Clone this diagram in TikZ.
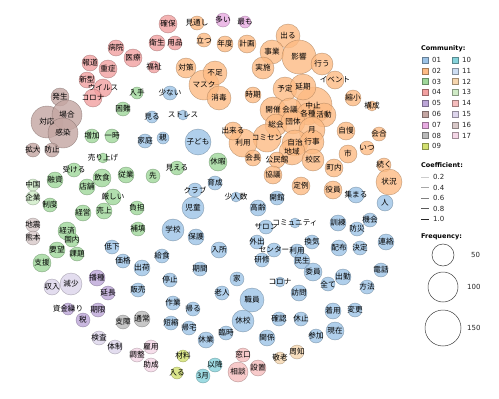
\documentclass[tikz,border=0pt]{standalone}
\usepackage{fontspec}
\newfontfamily\jpfont{Noto Sans CJK JP}
\newfontfamily\legfont{DejaVu Sans}
\pgfdeclarelayer{background}
\pgfdeclarelayer{foreground}
\pgfsetlayers{background,main,foreground}
\definecolor{c01}{HTML}{9DC3E6}
\definecolor{c02}{HTML}{FDBB84}
\definecolor{c03}{HTML}{9FD79A}
\definecolor{c04}{HTML}{F2A0A0}
\definecolor{c05}{HTML}{BCA6D8}
\definecolor{c06}{HTML}{C4A6A2}
\definecolor{c07}{HTML}{E8ABE2}
\definecolor{c08}{HTML}{BABABA}
\definecolor{c09}{HTML}{D2E070}
\definecolor{c10}{HTML}{86D3DB}
\definecolor{c11}{HTML}{CDDDF2}
\definecolor{c12}{HTML}{F6D6AE}
\definecolor{c13}{HTML}{CFEBC6}
\definecolor{c14}{HTML}{F6BDBD}
\definecolor{c15}{HTML}{DDD5EC}
\definecolor{c16}{HTML}{D8C8C8}
\definecolor{c17}{HTML}{F4D6E6}
\tikzset{
  nd/.style={circle, inner sep=0pt, draw=#1!65!black, fill=#1, fill opacity=0.8, draw opacity=0.7, line width=0.4pt},
  lbl/.style={inner sep=0pt, font=\jpfont\fontsize{7.6}{8}\selectfont, text=black},
  edge/.style={draw=black!28, line width=0.55pt},
  sq/.style={draw=#1!65!black, fill=#1, line width=0.4pt, minimum size=6pt, inner sep=0pt},
  lgt/.style={font=\legfont\fontsize{7}{8}\selectfont, anchor=west, inner sep=0pt, text=black!85},
  lgh/.style={font=\legfont\bfseries\fontsize{6.5}{8}\selectfont, anchor=west, inner sep=0pt}
}
\newcommand\N[6]{\node[nd=#2, minimum size={2*#5pt}] (#1) at (#3,#4) {};
  \begin{pgfonlayer}{foreground}\node[lbl] at (#1) {#6};\end{pgfonlayer}}
\newcommand\E[2]{\draw[edge] (#1) -- (#2);}
\begin{document}
\begin{tikzpicture}[x=1pt,y=-1pt]
\fill[white] (0,0) rectangle (499,399);
\useasboundingbox (0,0) rectangle (499,399);
% ---- community 04
\N{kakuho}{c04}{168}{24}{9}{確保}
\N{eisei}{c04}{157}{43}{8}{衛生}
\N{youhin}{c04}{175}{43}{7}{用品}
\N{byoin}{c04}{116}{48}{8}{病院}
\N{iryo}{c04}{133}{58}{9}{医療}
\N{fukushi}{c04}{154}{67}{6}{福祉}
\N{hodo}{c04}{90}{63}{8}{報道}
\N{jusho}{c04}{108}{69}{9}{重症}
\N{shingata}{c04}{87}{80}{8}{新型}
\N{virus}{c04}{103}{88}{9}{ウイルス}
\N{corona}{c04}{93}{98}{9}{コロナ}
% ---- community 06
\N{hassei}{c06}{60}{97}{9}{発生}
\N{taiou}{c06}{47}{122}{16}{対応}
\N{baai}{c06}{67}{115}{15}{場合}
\N{kansen}{c06}{63}{133}{15}{感染}
\N{kakudai}{c06}{33}{150}{7}{拡大}
\N{boushi}{c06}{52}{150}{7}{防止}
% ---- community 03
\N{nyushu}{c03}{137}{93}{6}{入手}
\N{konnan}{c03}{123}{109}{7}{困難}
\N{zouka}{c03}{92}{136}{7}{増加}
\N{ichiji}{c03}{112}{136}{7}{一時}
\N{uriage}{c03}{103}{158}{5}{売り上げ}
\N{ukeru}{c03}{74}{170}{7}{受ける}
\N{inshoku}{c03}{102}{178}{9}{飲食}
\N{jugyo}{c03}{126}{175}{8}{従業}
\N{tenpo}{c03}{87}{187}{8}{店舗}
\N{kibishii}{c03}{113}{197}{8}{厳しい}
\N{yushi}{c03}{55}{180}{8}{融資}
\N{seido}{c03}{50}{205}{7}{制度}
\N{keiei}{c03}{83}{213}{8}{経営}
\N{uriageb}{c03}{104}{211}{8}{売上}
\N{futan}{c03}{137}{208}{7}{負担}
\N{hoten}{c03}{138}{229}{7}{補填}
\N{unka}{c03}{67}{231}{9}{経済}
\N{unkb}{c03}{72}{240}{7}{国内}
\N{youbou}{c03}{57}{250}{8}{要望}
\N{kadai}{c03}{77}{254}{7}{課題}
\N{shien}{c03}{42}{263}{9}{支援}
\N{kyuka}{c03}{218}{162}{9}{休暇}
\N{mieru}{c03}{177}{168}{7}{見える}
\N{saki}{c03}{153}{176}{7}{先}
% ---- small communities
\N{chugoku}{c13}{33}{185}{6}{中国}
\N{kigyo}{c13}{33}{198}{7}{企業}
\N{jishin}{c16}{33}{225}{7}{地震}
\N{kumamoto}{c16}{33}{238}{7}{熊本}
\N{hashu}{c05}{97}{278}{8}{播種}
\N{encho}{c05}{108}{293}{7}{延長}
\N{shikin}{c05}{68}{309}{6}{資金繰り}
\N{kigen}{c05}{98}{310}{7}{期限}
\N{zei}{c05}{83}{320}{7}{税}
\N{shunyu}{c15}{52}{287}{8}{収入}
\N{genshou}{c15}{71}{284}{11}{減少}
\N{kensa}{c15}{99}{338}{7}{検査}
\N{taisei}{c15}{115}{347}{7}{体制}
\N{shisho}{c08}{123}{322}{7}{支障}
\N{tsujo}{c08}{142}{319}{8}{通常}
\N{koyou}{c17}{151}{347}{7}{雇用}
\N{chosei}{c17}{137}{355}{7}{調整}
\N{josei}{c17}{151}{365}{7}{助成}
\N{zairyo}{c09}{183}{356}{6}{材料}
\N{hairu}{c09}{177}{373}{6}{入る}
\N{iko}{c10}{215}{365}{7}{以降}
\N{sangatsu}{c10}{203}{376}{7}{3月}
\N{madoguchi}{c14}{243}{355}{7}{窓口}
\N{soudan}{c14}{238}{372}{10}{相談}
\N{secchi}{c14}{258}{368}{8}{設置}
\N{shuchi}{c12}{297}{352}{7}{周知}
\N{keirou}{c12}{280}{358}{6}{敬老}
\N{ooi}{c07}{223}{20}{7}{多い}
\N{mottomo}{c07}{245}{22}{6}{最も}
% ---- community 01
\N{sukunai}{c01}{170}{93}{7}{少ない}
\N{stress}{c01}{183}{115}{5}{ストレス}
\N{miru}{c01}{152}{117}{6}{見る}
\N{katei}{c01}{145}{141}{7}{家庭}
\N{oya}{c01}{163}{138}{6}{親}
\N{kodomo}{c01}{198}{142}{13}{子ども}
\N{ikusei}{c01}{215}{183}{7}{育成}
\N{club}{c01}{195}{190}{7}{クラブ}
\N{jidou}{c01}{193}{208}{11}{児童}
\N{shouninzu}{c01}{236}{197}{5}{少人数}
\N{gakkou}{c01}{173}{230}{11}{学校}
\N{hogo}{c01}{196}{237}{8}{保護}
\N{nyusho}{c01}{219}{250}{8}{入所}
\N{koureii}{c01}{258}{208}{8}{高齢}
\N{kaikan}{c01}{277}{198}{7}{開館}
\N{community}{c01}{295}{223}{5}{コミュニティ}
\N{salon}{c01}{266}{227}{7}{サロン}
\N{gaishutsu}{c01}{257}{242}{7}{外出}
\N{center}{c01}{274}{250}{7}{センター}
\N{unkc}{c01}{297}{251}{7}{利用}
\N{kanki}{c01}{312}{242}{7}{換気}
\N{minsei}{c01}{302}{261}{8}{民生}
\N{kenshu}{c01}{262}{260}{7}{研修}
\N{iin}{c01}{313}{272}{9}{委員}
\N{coronab}{c01}{280}{282}{5}{コロナ}
\N{subete}{c01}{328}{284}{7}{全て}
\N{shukkin}{c01}{343}{277}{8}{出勤}
\N{houhou}{c01}{367}{287}{7}{方法}
\N{denwa}{c01}{381}{270}{7}{電話}
\N{houmon}{c01}{299}{293}{8}{訪問}
\N{kakunin}{c01}{279}{319}{7}{確認}
\N{kyushi}{c01}{301}{319}{7}{休止}
\N{chakuyou}{c01}{333}{311}{8}{着用}
\N{henkou}{c01}{355}{310}{7}{変更}
\N{genzai}{c01}{335}{331}{9}{現在}
\N{sanka}{c01}{316}{336}{7}{参加}
\N{kankei}{c01}{267}{338}{8}{関係}
\N{atsumaru}{c01}{356}{195}{8}{集まる}
\N{hito}{c01}{385}{203}{8}{人}
\N{kunren}{c01}{338}{223}{8}{訓練}
\N{kikai}{c01}{370}{220}{7}{機会}
\N{bousai}{c01}{357}{229}{7}{防災}
\N{haifu}{c01}{339}{248}{8}{配布}
\N{kettei}{c01}{360}{248}{7}{決定}
\N{renraku}{c01}{386}{242}{8}{連絡}
\N{teika}{c01}{112}{247}{7}{低下}
\N{kakaku}{c01}{123}{261}{7}{価格}
\N{kyushoku}{c01}{162}{256}{7}{給食}
\N{shukka}{c01}{142}{268}{8}{出荷}
\N{hanbai}{c01}{138}{290}{7}{販売}
\N{kikan}{c01}{200}{269}{7}{期間}
\N{teishi}{c01}{170}{280}{7}{停止}
\N{ie}{c01}{237}{279}{7}{家}
\N{roujin}{c01}{222}{293}{7}{老人}
\N{shokuin}{c01}{252}{300}{12}{職員}
\N{sagyou}{c01}{173}{303}{7}{作業}
\N{kaeru}{c01}{193}{309}{7}{帰る}
\N{tanshuku}{c01}{171}{323}{7}{短縮}
\N{kitaku}{c01}{189}{328}{7}{帰宅}
\N{kyukou}{c01}{243}{321}{11}{休校}
\N{kyugyo}{c01}{206}{340}{8}{休業}
\N{rinji}{c01}{226}{333}{7}{臨時}
% ---- community 02
\N{mitooshi}{c02}{197}{23}{7}{見通し}
\N{tatsu}{c02}{204}{40}{7}{立つ}
\N{nendo}{c02}{225}{44}{8}{年度}
\N{keikaku}{c02}{247}{44}{9}{計画}
\N{taisaku}{c02}{186}{68}{10}{対策}
\N{mask}{c02}{204}{85}{15}{}
\N{fusoku}{c02}{215}{73}{12}{不足}
\N{shodoku}{c02}{219}{98}{12}{消毒}
\N{jiki}{c02}{253}{95}{8}{時期}
\N{deru}{c02}{288}{36}{12}{出る}
\N{jigyo}{c02}{272}{52}{12}{事業}
\N{eikyou}{c02}{299}{57}{17}{影響}
\N{okonau}{c02}{322}{64}{11}{行う}
\N{jisshi}{c02}{263}{68}{11}{実施}
\N{event}{c02}{335}{80}{9}{イベント}
\N{shukushou}{c02}{353}{98}{8}{縮小}
\N{kousei}{c02}{372}{106}{5}{構成}
\N{chushi}{c02}{314}{105}{18}{}
\N{yotei}{c02}{285}{89}{12}{予定}
\N{enki}{c02}{303}{87}{13}{延期}
\N{kaisai}{c02}{273}{110}{13}{開催}
\N{kaigi}{c02}{290}{110}{12}{会議}
\N{kakushu}{c02}{308}{114}{11}{各種}
\N{katsudou}{c02}{324}{115}{12}{活動}
\N{soukai}{c02}{276}{125}{11}{総会}
\N{dantai}{c02}{293}{122}{12}{団体}
\N{tsuki}{c02}{312}{130}{13}{月}
\N{comisen}{c02}{267}{138}{14}{コミセン}
\N{riyou}{c02}{243}{143}{14}{利用}
\N{dekiru}{c02}{233}{131}{9}{出来る}
\N{jichi}{c02}{295}{143}{13}{自治}
\N{gyouji}{c02}{312}{142}{12}{行事}
\N{chiiki}{c02}{292}{152}{13}{地域}
\N{kaichou}{c02}{253}{158}{8}{会長}
\N{kouminkan}{c02}{277}{160}{8}{公民館}
\N{kouku}{c02}{313}{160}{11}{校区}
\N{kyougi}{c02}{273}{175}{9}{協議}
\N{teirei}{c02}{301}{186}{9}{定例}
\N{yakuin}{c02}{333}{190}{9}{役員}
\N{chounai}{c02}{334}{168}{9}{町内}
\N{shi}{c02}{348}{154}{9}{市}
\N{jiman}{c02}{346}{131}{9}{自慢}
\N{kaigou}{c02}{379}{134}{7}{会合}
\N{itsu}{c02}{367}{148}{7}{いつ}
\N{tsuzuku}{c02}{384}{165}{7}{続く}
\N{joukyou}{c02}{389}{182}{13}{状況}
\begin{pgfonlayer}{foreground}
\node[lbl] (lmask) at (204,85) {マスク};
\node[lbl] (lchushi) at (313,106) {中止};
\end{pgfonlayer}
% ---- edges
\begin{pgfonlayer}{background}
\E{eisei}{youhin}\E{kakuho}{eisei}\E{eisei}{iryo}\E{byoin}{iryo}\E{iryo}{fukushi}
\E{hodo}{jusho}\E{jusho}{iryo}\E{shingata}{virus}\E{virus}{corona}\E{shingata}{corona}\E{jusho}{shingata}
\E{hassei}{baai}\E{baai}{taiou}\E{taiou}{kansen}\E{baai}{kansen}\E{hassei}{taiou}\E{kakudai}{boushi}
\E{nyushu}{konnan}\E{zouka}{ichiji}\E{zouka}{uriage}\E{ichiji}{uriage}\E{uriage}{inshoku}\E{uriage}{jugyo}
\E{ukeru}{tenpo}\E{ukeru}{inshoku}\E{inshoku}{tenpo}\E{inshoku}{kibishii}\E{inshoku}{jugyo}\E{jugyo}{kibishii}
\E{tenpo}{keiei}\E{tenpo}{uriageb}\E{kibishii}{uriageb}\E{keiei}{uriageb}\E{yushi}{seido}
\E{keiei}{unka}\E{keiei}{unkb}\E{unka}{unkb}\E{unkb}{kadai}\E{youbou}{kadai}\E{unka}{youbou}
\E{kibishii}{futan}\E{futan}{hoten}\E{jugyo}{saki}\E{saki}{mieru}\E{mieru}{kyuka}\E{chugoku}{kigyo}
\E{jishin}{kumamoto}\E{hashu}{encho}\E{encho}{kigen}\E{kigen}{zei}\E{shikin}{zei}
\E{kensa}{taisei}\E{shunyu}{genshou}\E{tsujo}{shisho}\E{koyou}{chosei}\E{koyou}{josei}\E{chosei}{josei}
\E{zairyo}{hairu}\E{iko}{sangatsu}\E{madoguchi}{soudan}\E{madoguchi}{secchi}\E{shuchi}{keirou}\E{ooi}{mottomo}
\E{stress}{kodomo}\E{katei}{oya}\E{oya}{kodomo}\E{miru}{oya}\E{kodomo}{ikusei}\E{ikusei}{club}\E{ikusei}{jidou}
\E{club}{jidou}\E{ikusei}{shouninzu}\E{shouninzu}{koureii}\E{jidou}{gakkou}\E{jidou}{hogo}\E{gakkou}{kyushoku}
\E{hogo}{nyusho}\E{nyusho}{gaishutsu}\E{nyusho}{kikan}\E{kyushoku}{shukka}\E{kyushoku}{teishi}\E{shukka}{hanbai}
\E{teishi}{sagyou}\E{sagyou}{kaeru}\E{sagyou}{tanshuku}\E{sagyou}{kitaku}\E{kaeru}{kitaku}\E{tanshuku}{kitaku}
\E{kaeru}{tanshuku}\E{kitaku}{kyugyo}\E{kyugyo}{rinji}\E{rinji}{kyukou}\E{ie}{roujin}\E{ie}{kenshu}\E{shokuin}{kenshu}
\E{teika}{kakaku}\E{kakaku}{shukka}\E{koureii}{salon}\E{gaishutsu}{center}\E{salon}{community}\E{community}{kanki}
\E{community}{center}\E{kanki}{minsei}\E{center}{unkc}\E{unkc}{minsei}\E{minsei}{iin}\E{minsei}{houmon}
\E{iin}{shukkin}\E{shukkin}{subete}\E{coronab}{subete}\E{shukkin}{houhou}\E{houhou}{denwa}\E{shukkin}{chakuyou}
\E{chakuyou}{henkou}\E{chakuyou}{genzai}\E{chakuyou}{sanka}\E{houmon}{kakunin}\E{houmon}{kyushi}\E{kakunin}{kankei}
\E{kaikan}{kunren}\E{atsumaru}{hito}\E{atsumaru}{bousai}\E{kikai}{bousai}\E{kikai}{atsumaru}\E{kunren}{bousai}
\E{kunren}{haifu}\E{haifu}{kettei}\E{bousai}{kettei}\E{kettei}{renraku}\E{kanki}{haifu}\E{kyougi}{kaikan}
\E{mitooshi}{tatsu}\E{tatsu}{nendo}\E{nendo}{keikaku}\E{keikaku}{jigyo}\E{taisaku}{fusoku}\E{taisaku}{mask}
\E{fusoku}{mask}\E{mask}{shodoku}\E{shodoku}{dekiru}\E{deru}{jigyo}\E{deru}{eikyou}\E{jigyo}{eikyou}
\E{jigyo}{jisshi}\E{jisshi}{eikyou}\E{eikyou}{okonau}\E{okonau}{event}\E{eikyou}{enki}\E{event}{chushi}
\E{yotei}{enki}\E{yotei}{kaisai}\E{yotei}{jisshi}\E{enki}{chushi}\E{kaisai}{kaigi}\E{kaigi}{chushi}
\E{chushi}{kakushu}\E{kakushu}{katsudou}\E{chushi}{katsudou}\E{katsudou}{shukushou}\E{shukushou}{kousei}
\E{kaisai}{soukai}\E{soukai}{dantai}\E{kaigi}{dantai}\E{dantai}{tsuki}\E{tsuki}{chushi}\E{tsuki}{gyouji}
\E{tsuki}{jiman}\E{jiman}{kaigou}\E{kaigou}{itsu}\E{itsu}{shi}\E{itsu}{tsuzuku}\E{tsuzuku}{joukyou}
\E{jichi}{chiiki}\E{jichi}{gyouji}\E{chiiki}{kouku}\E{gyouji}{kouku}\E{comisen}{riyou}\E{comisen}{soukai}
\E{riyou}{dekiru}\E{riyou}{kaichou}\E{kaichou}{kouminkan}\E{kouminkan}{chiiki}\E{kouminkan}{kyougi}
\E{kyougi}{teirei}\E{teirei}{kouku}\E{teirei}{yakuin}\E{chounai}{kouku}\E{shi}{tsuki}\E{jiki}{jisshi}
\E{jiki}{comisen}\E{comisen}{chiiki}\E{chiiki}{teirei}\E{ikusei}{kaichou}
\end{pgfonlayer}
% ---- legend
\node[lgh] (lc) at (421,49) {Community:};
\foreach \i/\c in {0/01,1/02,2/03,3/04,4/05,5/06,6/07,7/08,8/09}{
  \node[sq=c\c] (sa\c) at (425,60+10.8*\i) {};
  \node[lgt] (ta\c) at (432,60+10.8*\i) {\c};
}
\foreach \i/\c in {0/10,1/11,2/12,3/13,4/14,5/15,6/16,7/17}{
  \node[sq=c\c] (sb\c) at (455,60+10.8*\i) {};
  \node[lgt] (tb\c) at (462,60+10.8*\i) {\c};
}
\node[lgh] (lk) at (421,165) {Coefficient:};
\foreach \i/\v/\g/\w in {0/0.2/20/0.5,1/0.4/35/0.7,2/0.6/50/0.9,3/0.8/65/1.1,4/1.0/85/1.3}{
  \coordinate (la\i) at (421,177+10.6*\i);
  \coordinate (lb\i) at (429,177+10.6*\i);
  \draw[draw=black!\g, line width=\w pt] (la\i) -- (lb\i);
  \node[lgt] (lv\i) at (433,177+10.6*\i) {\v};
}
\node[lgh] (lf) at (421,237) {Frequency:};
\node[circle, draw=black!75, line width=0.5pt, minimum size=22pt, inner sep=0pt] (f50) at (443,255) {};
\node[lgt] (t50) at (471,255) {50};
\node[circle, draw=black!75, line width=0.5pt, minimum size=30pt, inner sep=0pt] (f100) at (443,287) {};
\node[lgt] (t100) at (467,287) {100};
\node[circle, draw=black!75, line width=0.5pt, minimum size=36pt, inner sep=0pt] (f150) at (443,328) {};
\node[lgt] (t150) at (467,328) {150};
\end{tikzpicture}
\end{document}
